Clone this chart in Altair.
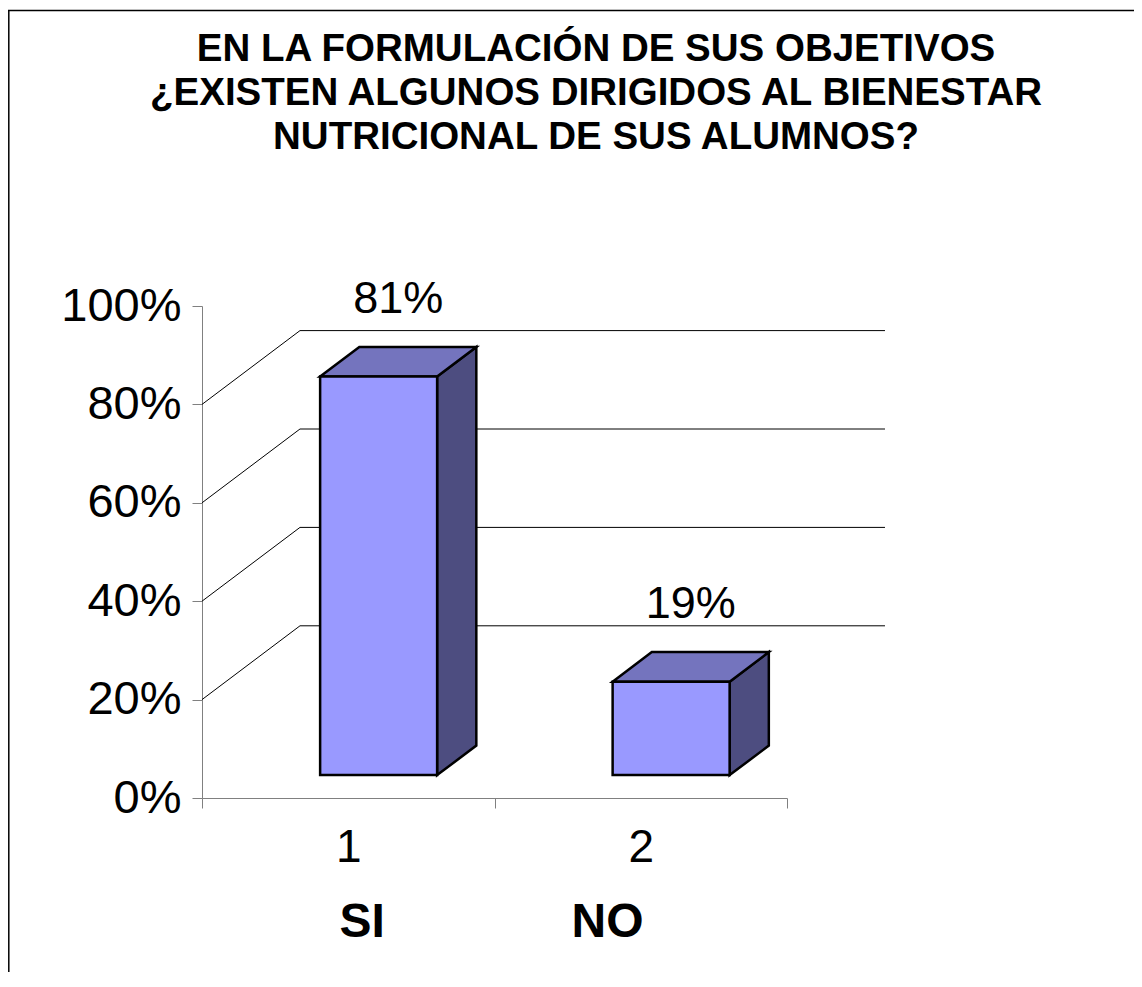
import altair as alt
import pandas as pd

# ---------------- data ----------------
categories = [1, 2]
category_labels = ["1", "2"]
answers = ["SI", "NO"]
values = [81, 19]                      # percent
value_labels = ["81%", "19%"]
y_ticks = [0, 20, 40, 60, 80, 100]
wall_grid = [20, 40, 60, 80]
title_lines = [
    "EN LA FORMULACIÓN DE SUS OBJETIVOS",
    "¿EXISTEN ALGUNOS DIRIGIDOS AL BIENESTAR",
    "NUTRICIONAL DE SUS ALUMNOS?",
]

# ---------------- 3-D projection parameters (data units) ----------------
DEPTH_X = 0.335   # shift of the back wall, in category units
DEPTH_Y = 15.0    # shift of the back wall, in percent units
FRONT = 0.31      # depth fraction of the bars' front face
BACK = 0.71       # depth fraction of the bars' back face
HALF = 0.2        # half bar width (gap width 150 %)
X_MIN, X_MAX = 0.5, 2.5

W, H = 585, 492
FONT = "Liberation Sans, Arial, sans-serif"
FRONT_COLOR = "#9999FF"
TOP_COLOR = "#7474BE"
SIDE_COLOR = "#4D4D80"
AXIS_COLOR = "#808080"

front_rows, top_rows, side_rows, label_rows = [], [], [], []
for c, v, lab in zip(categories, values, value_labels):
    fx, fy = FRONT * DEPTH_X, FRONT * DEPTH_Y
    bx, by = BACK * DEPTH_X, BACK * DEPTH_Y
    front_rows.append(dict(bar=c, x=c - HALF + fx, x2=c + HALF + fx, y=fy, y2=v + fy))
    top_rows += [
        dict(bar=c, y=v + fy, x=c - HALF + fx, x2=c + HALF + fx),
        dict(bar=c, y=v + by, x=c - HALF + bx, x2=c + HALF + bx),
    ]
    side_rows += [
        dict(bar=c, x=c + HALF + fx, y=fy, y2=v + fy),
        dict(bar=c, x=c + HALF + bx, y=by, y2=v + by),
    ]
    label_rows.append(dict(x=c + (fx + bx) / 2, y=v + (fy + by) / 2, text=lab))

front_df = pd.DataFrame(front_rows)
top_df = pd.DataFrame(top_rows)
side_df = pd.DataFrame(side_rows)
label_df = pd.DataFrame(label_rows)

wall_df = pd.DataFrame({"t": wall_grid})
wall_df["x"] = X_MIN + DEPTH_X
wall_df["x2"] = X_MAX + DEPTH_X
wall_df["y"] = wall_df["t"] + DEPTH_Y

diag_df = pd.DataFrame({"t": wall_grid})
diag_df["x"] = X_MIN
diag_df["x2"] = X_MIN + DEPTH_X
diag_df["y"] = diag_df["t"]
diag_df["y2"] = diag_df["t"] + DEPTH_Y

cat_df = pd.DataFrame({"cat": category_labels})

# ---------------- scales / axes ----------------
x_scale = alt.Scale(domain=[X_MIN, X_MAX], nice=False, zero=False)
y_scale = alt.Scale(domain=[0, 100], nice=False, zero=True)
y_axis = alt.Axis(
    values=y_ticks, labelExpr="datum.value + '%'", title=None, grid=False,
    tickSize=10, labelPadding=11, labelFontSize=47, labelFont=FONT,
    labelColor="black", tickColor=AXIS_COLOR, domainColor=AXIS_COLOR,
    tickWidth=1, domainWidth=1, labelOverlap=False,
)


def qx(f):
    return alt.X(f"{f}:Q", scale=x_scale, axis=None)


def qy(f):
    return alt.Y(f"{f}:Q", scale=y_scale, axis=y_axis)


# category axis (band scale, ticks at band extents)
axis_layer = alt.Chart(cat_df).mark_rect(opacity=0).encode(
    x=alt.X(
        "cat:N",
        sort=category_labels,
        scale=alt.Scale(paddingInner=0, paddingOuter=0),
        axis=alt.Axis(
            tickBand="extent", labelAngle=0, labelFontSize=46, labelFont=FONT,
            labelColor="black", labelPadding=17, tickSize=10,
            tickColor=AXIS_COLOR, domainColor=AXIS_COLOR, grid=False,
            title=answers[0] + "\u00a0" * 14 + answers[1], titleFont=FONT,
            titleFontSize=48, titleFontWeight="bold", titleColor="black",
            titlePadding=28, titleX=289, titleAlign="center",
        ),
    )
)

diag_layer = alt.Chart(diag_df).mark_rule(color="black", strokeWidth=1).encode(
    x=qx("x"), x2="x2", y=qy("y"), y2="y2"
)
wall_layer = alt.Chart(wall_df).mark_rule(color="black", strokeWidth=1).encode(
    x=qx("x"), x2="x2", y=qy("y")
)
side_layer = alt.Chart(side_df).mark_area(
    orient="vertical", color=SIDE_COLOR, stroke="black", strokeWidth=2.5,
    strokeJoin="miter", opacity=1,
).encode(x=qx("x"), y=qy("y"), y2="y2", detail="bar:N")
top_layer = alt.Chart(top_df).mark_area(
    orient="horizontal", color=TOP_COLOR, stroke="black", strokeWidth=2.5,
    strokeJoin="miter", opacity=1,
).encode(y=qy("y"), x=qx("x"), x2="x2", detail="bar:N")
front_layer = alt.Chart(front_df).mark_rect(
    color=FRONT_COLOR, stroke="black", strokeWidth=2.5, strokeJoin="miter"
).encode(x=qx("x"), x2="x2", y=qy("y"), y2="y2")
label_layer = alt.Chart(label_df).mark_text(
    font=FONT, fontSize=45, color="black", align="center",
    baseline="alphabetic", dy=-49,
).encode(x=qx("x"), y=qy("y"), text="text:N")

one = pd.DataFrame({"k": [0]})
title_layer = alt.Chart(one).mark_text(
    text=title_lines, font=FONT, fontSize=38.5, fontWeight="bold",
    color="black", align="center", baseline="alphabetic", lineHeight=44,
).encode(x=alt.value(394), y=alt.value(-245))

frame_top = alt.Chart(one).mark_rule(color="black", strokeWidth=1.5).encode(
    x=alt.value(-194), x2=alt.value(940), y=alt.value(-295.5)
)
frame_left = alt.Chart(one).mark_rule(color="black", strokeWidth=1.5).encode(
    x=alt.value(-193.2), y=alt.value(-296), y2=alt.value(700)
)

chart = (
    alt.layer(
        axis_layer, diag_layer, wall_layer, side_layer, top_layer,
        front_layer, label_layer, title_layer, frame_top, frame_left,
    )
    .resolve_scale(x="independent")
    .properties(
        width=W, height=H,
        autosize=alt.AutoSizeParams(type="none"),
        padding={"left": 194, "top": 298, "right": 347, "bottom": 174},
        background="white",
    )
    .configure_view(stroke=None)
)

chart.save("out.html", embed_options={"renderer": "svg", "actions": False})
